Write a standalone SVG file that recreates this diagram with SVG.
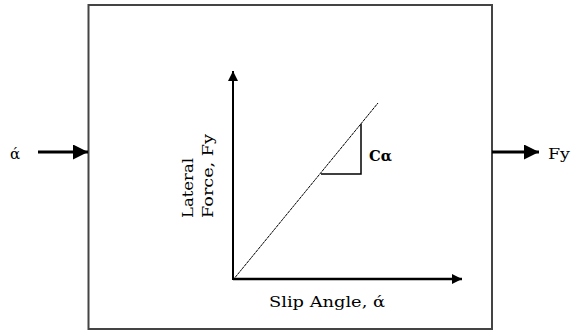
<svg xmlns="http://www.w3.org/2000/svg" width="571" height="332" viewBox="0 0 571 332">
<style>
.t{font-family:"DejaVu Serif","Liberation Serif",serif;font-size:15px;fill:#000}
.ln{stroke:#000;fill:none}
</style>
<defs>
<marker id="ah" viewBox="0 0 10 10" refX="10" refY="5" markerWidth="10" markerHeight="10" markerUnits="userSpaceOnUse" orient="auto">
<path d="M0,0 L10,5 L0,10 Z" fill="#000"/>
</marker>
<marker id="ah2" viewBox="0 0 10 10" refX="10" refY="5" markerWidth="5" markerHeight="5" orient="auto">
<path d="M0,0 L10,5 L0,10 Z" fill="#000"/>
</marker>
</defs>
<rect width="571" height="332" fill="#fff"/>
<g id="block">
<rect x="88.5" y="5" width="403.5" height="324" fill="#fff" stroke="#444" stroke-width="2"/>
</g>
<g id="input">
<text class="t" x="10" y="159" font-size="19">ά</text>
</g>
<g id="output">
<text class="t" x="548" y="159" textLength="22" lengthAdjust="spacingAndGlyphs">Fy</text>
</g>
<g id="graph">
<line class="ln" x1="233" y1="280" x2="233" y2="71" stroke-width="2" marker-end="url(#ah)"/>
<line class="ln" x1="233" y1="279" x2="462" y2="279" stroke-width="2.5" marker-end="url(#ah)"/>
<line class="ln" x1="233" y1="280" x2="378" y2="103" stroke-width="1" stroke-dasharray="3,0.6"/>
<polyline class="ln" points="361,124 361,174 321,174" stroke-width="1.5"/>
<text class="t" x="369" y="161" font-weight="bold" font-size="16" textLength="23" lengthAdjust="spacingAndGlyphs">Cα</text>
<text class="t" transform="translate(193,218) rotate(-90)" textLength="60" lengthAdjust="spacingAndGlyphs">Lateral</text>
<text class="t" transform="translate(213,218) rotate(-90)" textLength="84" lengthAdjust="spacingAndGlyphs">Force, Fy</text>
<text class="t" x="269" y="307" textLength="116" lengthAdjust="spacingAndGlyphs">Slip Angle, ά</text>
</g>
<g id="connectors">
<line class="ln" x1="38" y1="152" x2="88" y2="152" stroke-width="3" marker-end="url(#ah2)"/>
<line class="ln" x1="492" y1="152" x2="539" y2="152" stroke-width="3" marker-end="url(#ah2)"/>
</g>
</svg>
